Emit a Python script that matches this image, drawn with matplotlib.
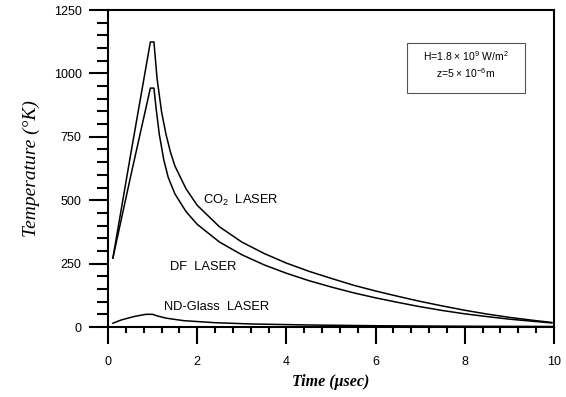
import numpy as np
import matplotlib
matplotlib.use("Agg")
import matplotlib.pyplot as plt
from matplotlib.patches import Rectangle
from matplotlib.ticker import MultipleLocator

plt.rcParams['font.family'] = ['Liberation Sans', 'DejaVu Sans']
plt.rcParams['mathtext.fontset'] = 'custom'
plt.rcParams['mathtext.rm'] = 'Liberation Sans'

# time (usec) and temperature (K)
t_co2 = [0.11, 0.5, 0.95, 1.03, 1.1, 1.2, 1.3, 1.4, 1.5, 1.75, 2.0, 2.5, 3.0,
         3.5, 4.0, 4.5, 5.0, 5.5, 6.0, 6.5, 7.0, 7.5, 8.0, 8.5, 9.0, 9.5, 9.95]
T_co2 = [272, 672, 1124, 1124, 980, 850, 760, 690, 635, 545, 480, 395, 335,
         290, 252, 220, 192, 165, 142, 121, 101, 83, 66, 51, 38, 27, 18]

t_df = [0.11, 0.5, 0.95, 1.03, 1.08, 1.15, 1.25, 1.35, 1.5, 1.75, 2.0, 2.5, 3.0,
        3.5, 4.0, 4.5, 5.0, 5.5, 6.0, 6.5, 7.0, 7.5, 8.0, 8.5, 9.0, 9.5, 9.95]
T_df = [272, 588, 942, 942, 860, 760, 660, 590, 525, 455, 405, 335, 285,
        245, 212, 183, 158, 135, 115, 97, 80, 65, 52, 41, 31, 23, 16]

t_nd = [0.11, 0.3, 0.6, 0.85, 1.0, 1.1, 1.3, 1.7, 2.4, 3.2, 4.5, 6.0, 8.0, 10.0]
T_nd = [15, 28, 42, 50, 50, 44, 35, 25, 17, 12, 8, 5, 3, 2]

fig = plt.figure(figsize=(5.66, 3.97), dpi=100)
ax = fig.add_axes([0.1908, 0.1763, 0.7880, 0.7985])

for t, T in [(t_co2, T_co2), (t_df, T_df), (t_nd, T_nd)]:
    ax.plot(t, T, color='black', lw=1.1)

ax.set_xlim(0, 10)
ax.set_ylim(0, 1250)
ax.xaxis.set_major_locator(MultipleLocator(2))
ax.xaxis.set_minor_locator(MultipleLocator(0.4))
ax.yaxis.set_major_locator(MultipleLocator(250))
ax.yaxis.set_minor_locator(MultipleLocator(50))

for s in ax.spines.values():
    s.set_linewidth(1.5)
ax.tick_params(axis='y', which='major', length=14, width=1.5, pad=5, labelsize=9)
ax.tick_params(axis='y', which='minor', length=8, width=1.5)
ax.tick_params(axis='x', which='major', length=12, width=1.5, pad=9, labelsize=9)
ax.tick_params(axis='x', which='minor', length=4.5, width=1.5)

ax.set_xlabel('Time (μsec)', family='Liberation Serif', style='italic',
              fontweight='bold', fontsize=11.5, labelpad=4)
ax.set_ylabel('Temperature (°K)', family='Liberation Serif', style='italic',
              fontsize=14, labelpad=10)

ax.text(2.13, 500, 'CO$_2$  LASER', fontsize=9.3, va='center')
ax.text(1.4, 235, 'DF  LASER', fontsize=9.3, va='center')
ax.text(1.25, 80, 'ND-Glass  LASER', fontsize=9.3, va='center')

ax.add_patch(Rectangle((0.67, 0.738), 0.265, 0.158, transform=ax.transAxes,
                       fill=False, edgecolor='#555555', lw=0.8))
ax.text(0.8025, 0.855, 'H=1.8 × 10$^9$ W/m$^2$', transform=ax.transAxes,
        ha='center', va='center', fontsize=7.5)
ax.text(0.8025, 0.80, 'z=5 × 10$^{-6}$m', transform=ax.transAxes,
        ha='center', va='center', fontsize=7.5)

fig.savefig('out.png', dpi=100)
